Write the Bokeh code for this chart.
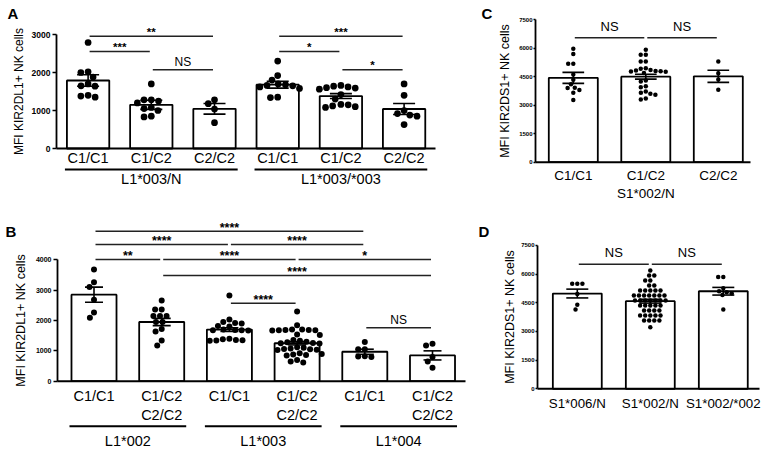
import math
from bokeh.plotting import figure
from bokeh.models import Range1d, FixedTicker, LinearAxis
from bokeh.layouts import row, column
from bokeh.embed import file_html
from bokeh.resources import INLINE
from bokeh.core.properties import value

FONT = "Liberation Sans"

# ---------------- data: panel A ----------------
A_letter = "A"
A_ylabel = "MFI KIR2DL1+ NK cells"
A_yticks = [0, 1000, 2000, 3000]
A_cats = ["C1/C1", "C1/C2", "C2/C2", "C1/C1", "C1/C2", "C2/C2"]
A_groups = ["L1*003/N", "L1*003/*003"]
A_group_idx = [[0, 1, 2], [3, 4, 5]]
A_mean = [1790, 1150, 1045, 1680, 1380, 1040]
A_sem = [150, 120, 140, 90, 65, 145]
A_pts = [
    [2790, 2000, 2020, 1880, 1700, 1650, 1640, 1380, 1350, 1400],
    [1700, 1280, 1250, 1280, 1200, 1080, 1050, 1000, 850, 830],
    [1280, 1180, 1040, 680],
    [2300, 1920, 1800, 1700, 1680, 1660, 1650, 1620, 1580, 1350, 1340],
    [1660, 1640, 1620, 1600, 1590, 1560, 1420, 1300, 1160, 1150, 1120, 1100, 1080],
    [1700, 1400, 1000, 920, 880, 850, 630],
]
A_cmp = [(0, 2, "**", 2955), (0, 1, "***", 2553), (1, 2, "NS", 2071),
         (3, 5, "***", 2955), (3, 4, "*", 2553), (4, 5, "*", 2071)]

# ---------------- data: panel B ----------------
B_letter = "B"
B_ylabel = "MFI KIR2DL1+ NK cells"
B_yticks = [0, 1000, 2000, 3000, 4000]
B_cats = ["C1/C1", "C1/C2\nC2/C2", "C1/C1", "C1/C2\nC2/C2", "C1/C1", "C1/C2\nC2/C2"]
B_groups = ["L1*002", "L1*003", "L1*004"]
B_group_idx = [[0, 1], [2, 3], [4, 5]]
B_mean = [2850, 1950, 1700, 1250, 970, 850]
B_sem = [250, 120, 60, 55, 85, 150]
B_pts = [
    [3680, 3260, 3100, 2680, 2260, 2090],
    [2660, 2360, 2360, 2150, 2150, 2150, 1950, 1950, 1720, 1640, 1340, 1180],
    [2820, 2030, 1950, 1920, 1900, 1820, 1800, 1700, 1690, 1680, 1680, 1670,
     1400, 1380, 1360, 1350, 1340, 1330],
    [2300, 1840, 1700, 1700, 1690, 1690, 1680, 1680, 1670, 1540, 1520,
     1360, 1330, 1300, 1280, 1260, 1250, 1240,
     1120, 1100, 1080, 1060, 1050, 1040, 1030, 920, 900, 880, 860, 850, 700, 650, 620],
    [1290, 1050, 1050, 820, 810, 800],
    [1230, 1180, 800, 650, 440],
]
B_cmp = [(0, 4, "****", 4942), (0, 2, "****", 4504), (2, 4, "****", 4504),
         (0, 1, "**", 4010), (1, 3, "****", 4010), (3, 5, "*", 4010),
         (1, 5, "****", 3483), (2, 3, "****", 2570), (4, 5, "NS", 1760)]

# ---------------- data: panel C ----------------
C_letter = "C"
C_ylabel = "MFI KIR2DS1+ NK cells"
C_yticks = [0, 1500, 3000, 4500, 6000, 7500]
C_cats = ["C1/C1", "C1/C2", "C2/C2"]
C_groups = ["S1*002/N"]
C_group_idx = [[0, 1, 2]]
C_mean = [4440, 4500, 4520]
C_sem = [290, 130, 320]
C_pts = [
    [5970, 5700, 5180, 5180, 4620, 4340, 4100, 3900, 3920, 3800, 3650, 3280],
    [5920, 5650, 5650, 5300, 5300, 4950, 4920, 4850, 4820, 4800, 4790, 4780,
     4760, 4700, 4300, 4250, 4000, 3950, 3720, 3650, 3600, 3550, 3350, 3300],
    [5300, 4680, 4350, 3810],
]
C_cmp = [(0, 1, "NS", 6547), (1, 2, "NS", 6547)]

# ---------------- data: panel D ----------------
D_letter = "D"
D_ylabel = "MFI KIR2DS1+ NK cells"
D_yticks = [0, 1500, 3000, 4500, 6000, 7500]
D_cats = ["S1*006/N", "S1*002/N", "S1*002/*002"]
D_groups = []
D_group_idx = []
D_mean = [4980, 4580, 5100]
D_sem = [230, 100, 200]
D_pts = [
    [5490, 5490, 5490, 4960, 4400, 4150],
    [6180, 5920, 5920, 5660, 5660, 5400, 5400,
     5140, 5140, 5140, 5140, 5140,
     4880, 4880, 4880, 4880, 4880, 4880, 4880,
     4620, 4620, 4620, 4620, 4620, 4620, 4620,
     4350, 4350, 4350, 4350, 4350,
     4090, 4090, 4090, 4090,
     3830, 3830, 3830, 3830, 3830,
     3570, 3570, 3570, 3570, 3220],
    [5840, 5840, 5250, 5100, 5050, 5000, 4900, 4150],
]
D_cmp = [(0, 1, "NS", 6513), (1, 2, "NS", 6513)]


def swarm(vals, yppu, xppu, d):
    """Deterministic beeswarm offsets (in data x units)."""
    order = sorted(range(len(vals)), key=lambda i: -vals[i])
    placed = []
    xs = [0.0] * len(vals)
    for i in order:
        y = vals[i] * yppu
        cands = [0.0]
        for (px, py) in placed:
            dy = abs(py - y)
            if dy < d:
                dx = math.sqrt(d * d - dy * dy)
                cands += [px + dx, px - dx]
        cands.sort(key=lambda c: (abs(c), c))
        for c in cands:
            if all((c - px) ** 2 + (y - py) ** 2 >= d * d - 1e-6 for px, py in placed):
                xs[i] = c
                break
        placed.append((xs[i], y))
    return [x / xppu for x in xs]


def make_panel(d, s):
    W, H = s["W"], s["H"]
    xppu, yppu, zero, b0 = s["xppu"], s["yppu"], s["zero"], s["bar0"]
    X = lambda px: (px - b0) / xppu          # figure pixel -> data x
    Y = lambda py: (zero - py) / yppu        # figure pixel -> data y
    xr = Range1d(X(0), X(W))
    yr = Range1d(Y(H), Y(0))
    p = figure(width=W, height=H, x_range=xr, y_range=yr,
               x_axis_type=None, y_axis_type=None,
               output_backend="svg", toolbar_location=None,
               min_border_left=0, min_border_right=0,
               min_border_top=0, min_border_bottom=0)
    p.outline_line_color = None
    p.background_fill_color = "white"
    p.border_fill_color = "white"

    ax_x = X(s["axis"])
    ax = LinearAxis(bounds=(0, d["yticks"][-1]), ticker=FixedTicker(ticks=d["yticks"]),
                    fixed_location=ax_x,
                    axis_label=d["ylabel"],
                    axis_label_text_font=FONT, axis_label_text_font_size=s["ylab_fs"],
                    axis_label_text_font_style="normal", axis_label_standoff=s["ylab_so"],
                    axis_label_text_color="black",
                    major_label_text_font=FONT, major_label_text_font_size=s["tick_fs"],
                    major_label_text_font_style="bold", major_label_standoff=s["tick_so"],
                    major_label_text_color="black",
                    major_tick_out=s["tick_out"], major_tick_in=0,
                    minor_tick_out=0, minor_tick_in=0,
                    axis_line_width=1.8, major_tick_line_width=1.5,
                    axis_line_color="black", major_tick_line_color="black")
    p.add_layout(ax, "left")

    n = len(d["cats"])
    idx = list(range(n))
    bw = s["bw"]
    p.vbar(x=idx, top=d["mean"], bottom=0, width=bw, fill_color="white",
           line_color="black", line_width=1.8)

    xs, ys = [], []
    for i, pts in enumerate(d["pts"]):
        offs = swarm(pts, yppu, xppu, s["dot"] + 0.6)
        xs += [i + o for o in offs]
        ys += list(pts)
    p.scatter(x=xs, y=ys, size=s["dot"], fill_color="black", line_color=None)

    lo = [m - e for m, e in zip(d["mean"], d["sem"])]
    hi = [m + e for m, e in zip(d["mean"], d["sem"])]
    cw = s["cap"] / xppu / 2
    p.segment(x0=idx, y0=lo, x1=idx, y1=hi, line_color="black", line_width=1.6)
    p.segment(x0=[i - cw for i in idx], y0=hi, x1=[i + cw for i in idx], y1=hi,
              line_color="black", line_width=1.6)
    p.segment(x0=[i - cw for i in idx], y0=lo, x1=[i + cw for i in idx], y1=lo,
              line_color="black", line_width=1.6)

    # x axis baseline
    p.segment(x0=[ax_x], y0=[0], x1=[X(s["base_end"])], y1=[0],
              line_color="black", line_width=2)

    # significance brackets
    sh = 1.5 / xppu
    sx0 = [a + sh for a, b, _, _ in d["cmp"]]
    sx1 = [b - sh for a, b, _, _ in d["cmp"]]
    sy = [lev for _, _, _, lev in d["cmp"]]
    if sx0:
        p.segment(x0=sx0, y0=sy, x1=sx1, y1=sy, line_color="#222222", line_width=1.5)
    stars = [c for c in d["cmp"] if c[2] != "NS"]
    ns = [c for c in d["cmp"] if c[2] == "NS"]
    if stars:
        p.text(x=[(a + b) / 2 for a, b, _, _ in stars], y=[l for _, _, _, l in stars],
               text=[t for _, _, t, _ in stars], text_align="center",
               text_baseline="middle", y_offset=s["star_off"],
               text_font=value(FONT), text_font_size=s["star_fs"],
               text_font_style="bold", text_color="black")
    if ns:
        p.text(x=[(a + b) / 2 for a, b, _, _ in ns], y=[l for _, _, _, l in ns],
               text=[t for _, _, t, _ in ns], text_align="center",
               text_baseline="middle", y_offset=s["ns_off"],
               text_font=value(FONT), text_font_size=s["ns_fs"], text_color="black")

    # category labels (possibly two lines)
    lines = [c.split("\n") for c in d["cats"]]
    for k in range(max(len(l) for l in lines)):
        sel = [i for i, l in enumerate(lines) if len(l) > k]
        p.text(x=sel, y=[0] * len(sel), text=[lines[i][k] for i in sel],
               text_align="center", text_baseline="middle",
               y_offset=s["cat_off"][k], text_font=value(FONT),
               text_font_size=s["cat_fs"], text_color="black")

    # group labels and underlines
    for g, members in zip(d["groups"], d["group_idx"]):
        gx0 = members[0] - bw / 2 - 2 / xppu
        gx1 = members[-1] + bw / 2 + 2 / xppu
        if s["uline"] is not None:
            yl = -s["uline"] / yppu
            p.segment(x0=[gx0], y0=[yl], x1=[gx1], y1=[yl], line_color="black", line_width=2)
        p.text(x=[(members[0] + members[-1]) / 2], y=[0], text=[g],
               text_align="center", text_baseline="middle",
               y_offset=s["glab_off"], text_font=value(FONT),
               text_font_size=s["grp_fs"], text_color="black")

    # panel letter
    p.text(x=[X(s["let_x"])], y=[Y(s["let_y"])], text=[d["letter"]],
           text_align="left", text_baseline="middle", text_font=value(FONT),
           text_font_size="15px", text_font_style="bold", text_color="black")
    return p


A = dict(letter=A_letter, ylabel=A_ylabel, yticks=A_yticks, cats=A_cats, groups=A_groups,
         group_idx=A_group_idx, mean=A_mean, sem=A_sem, pts=A_pts, cmp=A_cmp)
B = dict(letter=B_letter, ylabel=B_ylabel, yticks=B_yticks, cats=B_cats, groups=B_groups,
         group_idx=B_group_idx, mean=B_mean, sem=B_sem, pts=B_pts, cmp=B_cmp)
C = dict(letter=C_letter, ylabel=C_ylabel, yticks=C_yticks, cats=C_cats, groups=C_groups,
         group_idx=C_group_idx, mean=C_mean, sem=C_sem, pts=C_pts, cmp=C_cmp)
D = dict(letter=D_letter, ylabel=D_ylabel, yticks=D_yticks, cats=D_cats, groups=D_groups,
         group_idx=D_group_idx, mean=D_mean, sem=D_sem, pts=D_pts, cmp=D_cmp)

# layout constants (figure pixel coordinates)
sA = dict(W=475, H=200, axis=56, bar0=87.6, xppu=63.2, zero=148, yppu=0.038, bw=0.67, cap=22,
          dot=6.7, base_end=435, tick_fs="8.5px", tick_so=2, tick_out=4, ylab_fs="12px",
          ylab_so=3, cat_fs="14.5px", cat_off=[9.5], uline=21, glab_off=30.3, grp_fs="14.5px",
          star_fs="11.5px", star_off=-4.4, ns_fs="12px", ns_off=-7.8, let_x=7, let_y=13.3)
sB = dict(W=475, H=252, axis=57, bar0=93.5, xppu=67.7, zero=180.7, yppu=0.03035, bw=0.665,
          cap=18, dot=6, base_end=465, tick_fs="7px", tick_so=2, tick_out=4, ylab_fs="12.5px",
          ylab_so=5, cat_fs="14.5px", cat_off=[15.1, 33.5], uline=45, glab_off=59.6,
          grp_fs="14.5px", star_fs="12.5px", star_off=-3.5, ns_fs="12px", ns_off=-7.8,
          let_x=5, let_y=31)
sC = dict(W=290, H=215, axis=60, bar0=97.8, xppu=72.5, zero=161.7, yppu=0.019, bw=0.676,
          cap=21.7, dot=4.5, base_end=275, tick_fs="6px", tick_so=1, tick_out=2,
          ylab_fs="12.5px", ylab_so=4, cat_fs="13.5px", cat_off=[13.3], uline=None,
          glab_off=31.3, grp_fs="13.5px", star_fs="12px", star_off=-3, ns_fs="13px",
          ns_off=-11.6, let_x=6, let_y=13.3)
sD = dict(W=290, H=237, axis=62, bar0=101.8, xppu=73, zero=173.3, yppu=0.01913, bw=0.67,
          cap=22, dot=4.5, base_end=284, tick_fs="6px", tick_so=1, tick_out=2,
          ylab_fs="12.5px", ylab_so=1, cat_fs="13.3px", cat_off=[14.2], uline=None,
          glab_off=31, grp_fs="13.5px", star_fs="12px", star_off=-3, ns_fs="13px",
          ns_off=-12, let_x=3, let_y=15.7)

pA = make_panel(A, sA)
pB = make_panel(B, sB)
pC = make_panel(C, sC)
pD = make_panel(D, sD)

layout = row(column(pA, pB, spacing=0), column(pC, pD, spacing=0), spacing=0)
open("out.html", "w").write(file_html(layout, INLINE))
